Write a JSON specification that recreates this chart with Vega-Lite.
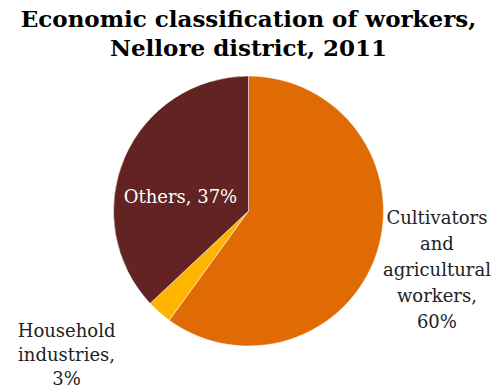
{
  "$schema": "https://vega.github.io/schema/vega-lite/v6.json",
  "autosize": {"type": "fit", "contains": "padding"},
  "width": 497,
  "height": 392,
  "padding": {"top": 9, "bottom": 31, "left": 0, "right": 0},
  "background": "white",
  "title": {
    "text": ["Economic classification of workers,", "Nellore district, 2011"],
    "font": "DejaVu Serif",
    "fontSize": 23,
    "fontWeight": "bold",
    "color": "#000000",
    "lineHeight": 29,
    "anchor": "middle",
    "offset": 0
  },
  "data": {
    "values": [
      {"category": "Cultivators and agricultural workers", "share": 60, "label": "Cultivators\nand\nagricultural\nworkers,\n60%"},
      {"category": "Household industries", "share": 3, "label": "Household\nindustries,\n3%"},
      {"category": "Others", "share": 37, "label": "Others, 37%"}
    ]
  },
  "encoding": {
    "theta": {"field": "share", "type": "quantitative", "stack": true},
    "color": {
      "field": "category",
      "type": "nominal",
      "scale": {
        "domain": ["Cultivators and agricultural workers", "Household industries", "Others"],
        "range": ["#E06B05", "#FFB400", "#622322"]
      },
      "legend": null
    },
    "order": {"field": "category", "type": "nominal"}
  },
  "view": {"stroke": null},
  "layer": [
    {
      "mark": {"type": "arc", "outerRadius": 135, "stroke": "white", "strokeWidth": 0.5}
    },
    {
      "mark": {"type": "text", "radius": 196, "dx": 2, "dy": -53, "font": "DejaVu Serif", "fontSize": 18, "lineBreak": "\n", "lineHeight": 26, "align": "center", "baseline": "middle"},
      "encoding": {
        "text": {"condition": {"test": "datum.category === 'Cultivators and agricultural workers'", "field": "label"}, "value": ""},
        "color": {"value": "#222222"}
      }
    },
    {
      "mark": {"type": "text", "radius": 198, "dx": -51, "dy": -28, "font": "DejaVu Serif", "fontSize": 18, "lineBreak": "\n", "lineHeight": 24, "align": "center", "baseline": "middle"},
      "encoding": {
        "text": {"condition": {"test": "datum.category === 'Household industries'", "field": "label"}, "value": ""},
        "color": {"value": "#222222"}
      }
    },
    {
      "mark": {"type": "text", "radius": 72, "dx": -2, "dy": 16, "font": "DejaVu Serif", "fontSize": 18, "align": "center", "baseline": "middle"},
      "encoding": {
        "text": {"condition": {"test": "datum.category === 'Others'", "field": "label"}, "value": ""},
        "color": {"value": "#FFFFFF"}
      }
    }
  ]
}
